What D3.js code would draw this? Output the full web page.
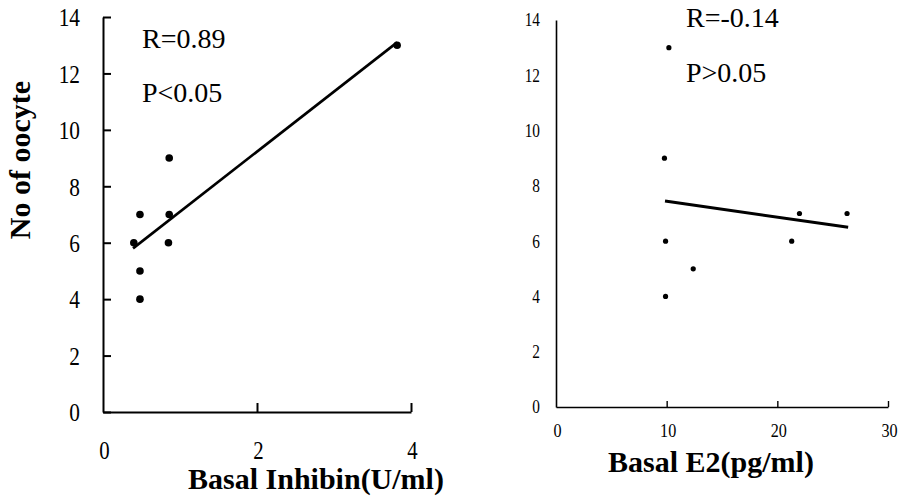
<!DOCTYPE html>
<html>
<head>
<meta charset="utf-8">
<script src="https://cdn.jsdelivr.net/npm/d3@7"></script>
<style>
  html, body { margin: 0; padding: 0; background: #fff; }
  svg { display: block; }
</style>
</head>
<body>
<svg id="chart" width="903" height="499"></svg>
<script>
// ---- Data ----
const inhibinX = [0.40, 0.48, 0.48, 0.48, 0.86, 0.86, 0.85, 3.82];
const inhibinY = [6, 7, 5, 4, 9, 7, 6, 13];
const inhibinFitX = [0.39, 3.82];
const inhibinFitY = [5.8, 13.1];
const inhibinTicksX = [0, 2, 4];

const e2X = [9.8, 10.2, 9.9, 9.9, 12.4, 21.3, 22.0, 26.3];
const e2Y = [9, 13, 6, 4, 5, 6, 7, 7];
const e2FitX = [9.85, 26.4];
const e2FitY = [7.45, 6.5];
const e2TicksX = [0, 10, 20, 30];

const yTicks = [0, 2, 4, 6, 8, 10, 12, 14];

const leftStats = ["R=0.89", "P<0.05"];
const rightStats = ["R=-0.14", "P>0.05"];
const leftXTitle = "Basal Inhibin(U/ml)";
const rightXTitle = "Basal E2(pg/ml)";
const yTitle = "No of oocyte";

// ---- Drawing ----
const FONT = "Liberation Serif";
const svg = d3.select("#chart");
svg.append("rect").attr("width", 903).attr("height", 499).attr("fill", "#fff");
const fmt = d3.format("d");

function toPts(xs, ys) { return xs.map((x, i) => [x, ys[i]]); }

// ===== Left panel =====
{
  const x = d3.scaleLinear().domain([0, 4]).range([103, 411]);
  const y = d3.scaleLinear().domain([0, 14]).range([412, 17]);
  const g = svg.append("g");

  const ya = g.append("g").attr("transform", `translate(${x(0)},0)`)
    .call(d3.axisLeft(y).tickValues(yTicks).tickFormat(fmt).tickSizeInner(-8).tickSizeOuter(0).tickPadding(0));
  ya.attr("font-family", FONT);
  ya.select(".domain").attr("stroke-width", 2);
  ya.selectAll(".tick line").attr("stroke-width", 2);
  ya.selectAll(".tick text")
    .attr("x", 0).attr("dy", null)
    .attr("font-family", FONT)
    .attr("font-size", 26)
    .attr("text-anchor", "end")
    .attr("dominant-baseline", "central")
    .attr("transform", "translate(-23,0) scale(0.82,1)");

  const xa = g.append("g").attr("transform", `translate(0,${y(0)})`)
    .call(d3.axisBottom(x).tickValues(inhibinTicksX).tickFormat(fmt).tickSizeInner(-9).tickSizeOuter(0).tickPadding(0));
  xa.attr("font-family", FONT);
  xa.select(".domain").attr("stroke-width", 2);
  xa.selectAll(".tick line").attr("stroke-width", 2).filter(d => d === 0).remove();
  xa.selectAll(".tick text")
    .attr("y", 0).attr("dy", null)
    .attr("font-family", FONT)
    .attr("font-size", 26)
    .attr("dominant-baseline", "central")
    .attr("transform", "translate(1,38) scale(0.8,1)");

  g.append("path")
    .datum(toPts(inhibinFitX, inhibinFitY))
    .attr("d", d3.line().x(d => x(d[0])).y(d => y(d[1])))
    .attr("stroke", "#000").attr("stroke-width", 2.6).attr("fill", "none");

  g.selectAll("circle.pt").data(toPts(inhibinX, inhibinY)).join("circle")
    .attr("class", "pt")
    .attr("cx", d => x(d[0])).attr("cy", d => y(d[1])).attr("r", 3.8)
    .attr("fill", "#000");

  g.selectAll("text.stat").data(leftStats).join("text")
    .attr("class", "stat")
    .attr("x", 142).attr("y", (d, i) => 48 + i * 54)
    .attr("font-family", FONT)
    .attr("font-size", 28)
    .text(d => d);

  g.append("text")
    .attr("transform", "translate(30,160) rotate(-90)")
    .attr("text-anchor", "middle")
    .attr("font-family", FONT)
    .attr("font-size", 30).attr("font-weight", "bold")
    .text(yTitle);
  g.append("text")
    .attr("x", 316).attr("y", 489)
    .attr("text-anchor", "middle")
    .attr("font-family", FONT)
    .attr("font-size", 30).attr("font-weight", "bold")
    .text(leftXTitle);
}

// ===== Right panel =====
{
  const x = d3.scaleLinear().domain([0, 30]).range([556, 888]);
  const y = d3.scaleLinear().domain([0, 14]).range([407, 20]);
  const g = svg.append("g");

  const ya = g.append("g").attr("transform", `translate(${x(0)},0)`)
    .call(d3.axisLeft(y).tickValues(yTicks).tickFormat(fmt).tickSize(0).tickPadding(0));
  ya.attr("font-family", FONT);
  ya.select(".domain").attr("stroke-width", 1.6);
  ya.selectAll(".tick line").remove();
  ya.selectAll(".tick text")
    .attr("x", 0).attr("dy", null)
    .attr("font-family", FONT)
    .attr("font-size", 18)
    .attr("text-anchor", "end")
    .attr("dominant-baseline", "central")
    .attr("transform", "translate(-16,0) scale(0.85,1)");

  const xa = g.append("g").attr("transform", `translate(0,${y(0)})`)
    .call(d3.axisBottom(x).tickValues(e2TicksX).tickFormat(fmt).tickSizeInner(-6).tickSizeOuter(0).tickPadding(0));
  xa.attr("font-family", FONT);
  xa.select(".domain").attr("stroke-width", 1.6);
  xa.selectAll(".tick line").attr("stroke-width", 1.4).filter(d => d === 0).remove();
  xa.selectAll(".tick text")
    .attr("y", 0).attr("dy", null)
    .attr("font-family", FONT)
    .attr("font-size", 19)
    .attr("dominant-baseline", "central")
    .attr("transform", "translate(1,24) scale(0.85,1)");

  g.append("path")
    .datum(toPts(e2FitX, e2FitY))
    .attr("d", d3.line().x(d => x(d[0])).y(d => y(d[1])))
    .attr("stroke", "#000").attr("stroke-width", 3).attr("fill", "none");

  g.selectAll("circle.pt").data(toPts(e2X, e2Y)).join("circle")
    .attr("class", "pt")
    .attr("cx", d => x(d[0])).attr("cy", d => y(d[1])).attr("r", 2.6)
    .attr("fill", "#000");

  g.selectAll("text.stat").data(rightStats).join("text")
    .attr("class", "stat")
    .attr("x", 686).attr("y", (d, i) => 27 + i * 55)
    .attr("font-family", FONT)
    .attr("font-size", 28)
    .text(d => d);

  g.append("text")
    .attr("x", 711).attr("y", 472)
    .attr("text-anchor", "middle")
    .attr("font-family", FONT)
    .attr("font-size", 30).attr("font-weight", "bold")
    .text(rightXTitle);
}
</script>
</body>
</html>
